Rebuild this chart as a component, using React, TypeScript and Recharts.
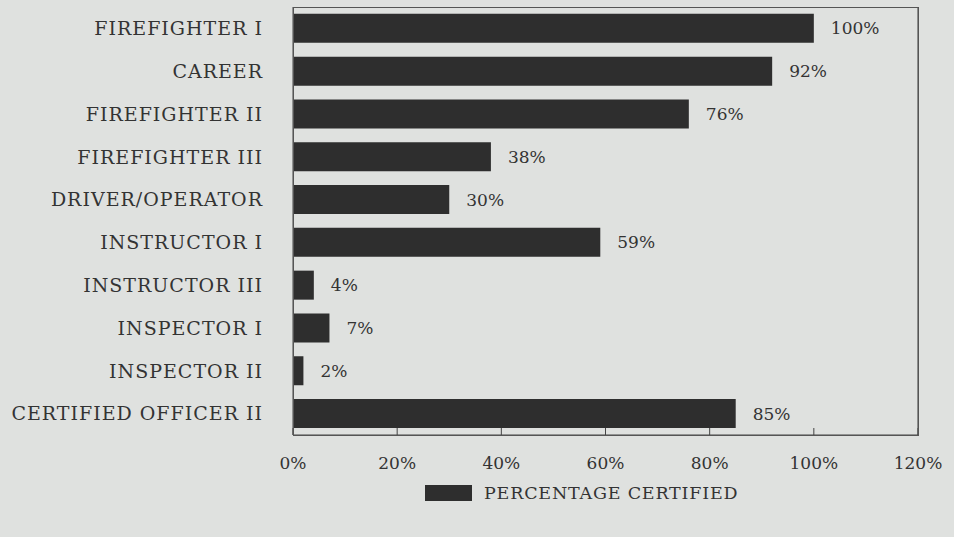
import { BarChart, Bar, XAxis, YAxis, Legend, LabelList, ReferenceLine } from 'recharts';

const categories = [
  'FIREFIGHTER I',
  'CAREER',
  'FIREFIGHTER II',
  'FIREFIGHTER III',
  'DRIVER/OPERATOR',
  'INSTRUCTOR I',
  'INSTRUCTOR III',
  'INSPECTOR I',
  'INSPECTOR II',
  'CERTIFIED OFFICER II',
];
const certified = [100, 92, 76, 38, 30, 59, 4, 7, 2, 85];
const xTicks = [0, 20, 40, 60, 80, 100, 120];

const data = categories.map((name, i) => ({ name, value: certified[i] }));

const FONT = '"DejaVu Serif", serif';
const INK = '#333333';
const BAR = '#2e2e2e';

const W = 954;
const H = 537;
const MARGIN = { top: 7, right: 36, left: 0, bottom: 0 };
const Y_AXIS_W = 293;
const X_AXIS_H = 102;

const XTick = (props: any) => {
  const { x, y, payload } = props;
  return (
    <g>
      <line x1={x} y1={y} x2={x} y2={y - 7} stroke="#444" strokeWidth={1} />
      <text x={x} y={y + 34} textAnchor="middle" fill={INK} fontFamily={FONT} fontSize={17}>
        {payload.value}%
      </text>
    </g>
  );
};

const LegendContent = () => (
  <div style={{ display: 'flex', alignItems: 'center', fontFamily: FONT, fontSize: 17.5, color: INK }}>
    <div style={{ width: 47, height: 16, background: BAR, marginRight: 12 }} />
    <span style={{ letterSpacing: 0.8, whiteSpace: 'nowrap' }}>PERCENTAGE CERTIFIED</span>
  </div>
);

export default function App() {
  return (
    <div style={{ position: 'absolute', left: 0, top: 0, width: W, height: H, background: '#dfe1df' }}>
      <BarChart
        width={W}
        height={H}
        data={data}
        layout="vertical"
        barCategoryGap="16%"
        margin={MARGIN}
      >
        <XAxis
          type="number"
          domain={[0, 120]}
          ticks={xTicks}
          interval={0}
          tickSize={0}
          tickMargin={0}
          tick={<XTick />}
          axisLine={{ stroke: '#444' }}
          height={X_AXIS_H}
        />
        <YAxis
          type="category"
          dataKey="name"
          width={Y_AXIS_W}
          tickLine={false}
          tickSize={0}
          tickMargin={30}
          axisLine={{ stroke: '#444' }}
          tick={{ fill: INK, fontFamily: FONT, fontSize: 19, letterSpacing: 1 }}
        />
        <ReferenceLine x={120} stroke="#555" strokeWidth={1.2} />
        <Legend
          layout="vertical"
          align="center"
          verticalAlign="middle"
          content={<LegendContent />}
          wrapperStyle={{ position: 'absolute', left: 425, top: 483, width: 'auto' }}
        />
        <Bar dataKey="value" fill={BAR} isAnimationActive={false}>
          <LabelList
            dataKey="value"
            position="right"
            offset={17}
            formatter={(v: any) => `${v}%`}
            style={{ fill: INK, fontFamily: FONT, fontSize: 17 }}
          />
        </Bar>
      </BarChart>
      {/* frame round the plot area, same box as the chart's offset */}
      <div
        style={{
          position: 'absolute',
          left: MARGIN.left + Y_AXIS_W,
          top: MARGIN.top,
          width: W - MARGIN.left - MARGIN.right - Y_AXIS_W + 1,
          height: H - MARGIN.top - MARGIN.bottom - X_AXIS_H + 1,
          border: '1px solid #555',
          boxSizing: 'border-box',
          pointerEvents: 'none',
        }}
      />
    </div>
  );
}
